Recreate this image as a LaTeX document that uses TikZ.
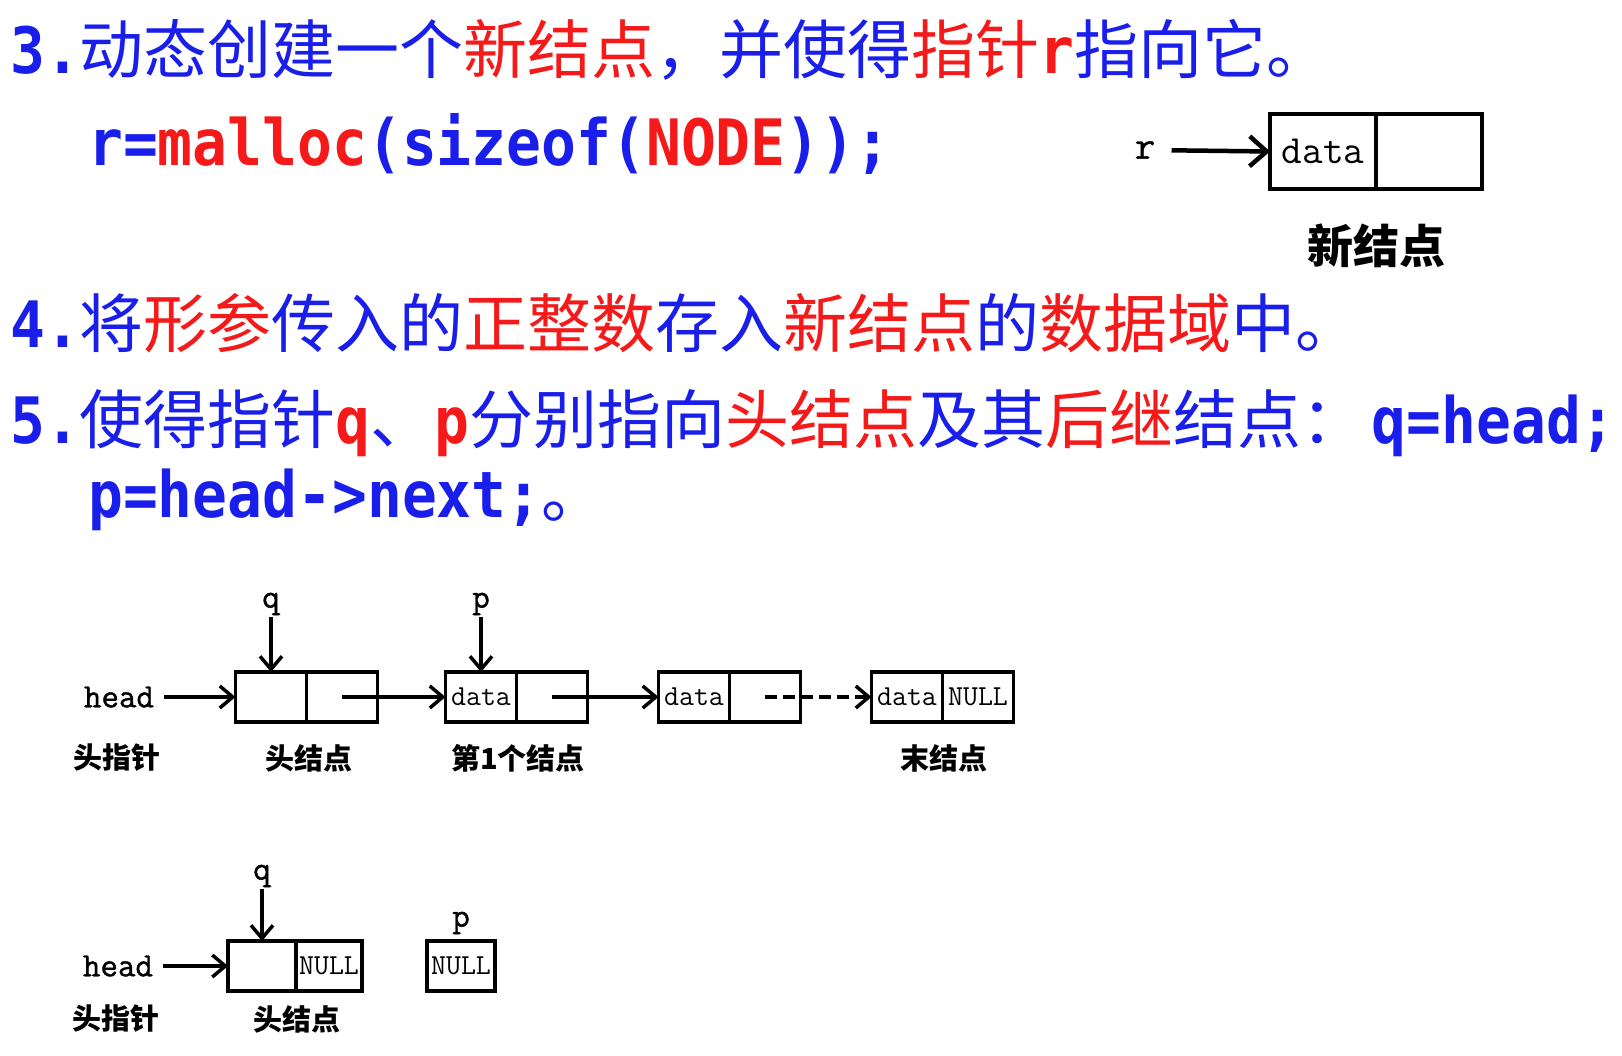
\documentclass[tikz,border=0pt]{standalone}
\usepackage{fontspec}
\usetikzlibrary{arrows.meta,positioning}
\newfontfamily\cjk{Noto Sans CJK SC}
\newfontfamily\codefont[FakeStretch=0.905]{DejaVu Sans Mono}
\newfontfamily\varfont[FakeBold=1.2]{Latin Modern Mono}
\definecolor{txtblue}{RGB}{25,30,235}
\definecolor{txtred}{RGB}{245,25,25}
\newcommand\redtxt[1]{{\color{txtred}#1}}
\newcommand\cd[1]{{\codefont\bfseries #1}}

\begin{document}
\begin{tikzpicture}[
  x=1pt, y=-1pt, >={Straight Barb[length=13pt,width=22pt]},
  line/.style={font=\cjk\fontsize{64}{64}\selectfont, text=txtblue,
               anchor=base west, inner sep=0pt},
  cell/.style={draw, line width=3.5pt, minimum width=71pt, minimum height=50pt,
               inner sep=0pt, outer sep=0pt,
               font=\ttfamily\fontsize{29}{29}\selectfont},
  bigcell/.style={cell, line width=4.5pt, minimum width=106pt,
                  minimum height=75pt, font=\ttfamily\fontsize{40}{40}\selectfont},
  var/.style={font=\varfont\fontsize{34}{34}\selectfont, inner sep=2pt},
  lbl/.style={font=\cjk\bfseries\fontsize{29}{29}\selectfont, inner sep=0pt},
  ptr/.style={->, line width=3.5pt}
]
\fill[white] (0,0) rectangle (1622,1056);

% ---- text lines
\node[line] (l3) at (10,74)
  {\cd{3.}动态创建一个\redtxt{新结点}，并使得\redtxt{指针\cd{r}}指向它。};
\node[line] (c3) at (88,166)
  {\cd{r=\redtxt{malloc}(sizeof(\redtxt{NODE}));}};
\node[line] (l4) at (10,348)
  {\cd{4.}将\redtxt{形参}传入的\redtxt{正整数}存入\redtxt{新结点}的\redtxt{数据域}中。};
\node[line] (l5) at (10,443)
  {\cd{5.}使得指针\redtxt{\cd{q}}、\redtxt{\cd{p}}分别指向\redtxt{头结点}及其\redtxt{后继}结点：\hspace{6pt}\cd{q=head;}};
\node[line] (l6) at (88,517) {\cd{p=head->next;}。};

% ---- new node r
\node[var, font=\varfont\fontsize{40}{40}\selectfont] (r) at (1145,150) {r};
\node[bigcell] (nd) at (1323,151.5) {data};
\node[bigcell, right=0pt of nd] (nn) {};
\node[lbl, font=\cjk\bfseries\fontsize{46}{46}\selectfont] (ndlbl) at (1376,246) {新结点};
\draw[->, line width=4.5pt, >={Straight Barb[length=17pt,width=30pt]},
      shorten <=14pt] (r) -- (nd.west);

% ---- list with head node
\node[var] (hp1) at (119,697) {head};
\node[cell] (h0d) at (271,697) {};
\node[cell, right=0pt of h0d] (h0n) {};
\node[cell] (n1d) at (481,697) {data};
\node[cell, right=0pt of n1d] (n1n) {};
\node[cell] (n2d) at (694,697) {data};
\node[cell, right=0pt of n2d] (n2n) {};
\node[cell] (n3d) at (907,697) {data};
\node[cell, right=0pt of n3d] (n3n) {NULL};
\node[var] (q1) at (271,604) {q};
\node[var] (p1) at (481,604) {p};

\node[lbl] at (117,758) {头指针};
\node[lbl] at (309,758) {头结点};
\node[lbl] at (518,758) {第1个结点};
\node[lbl] at (944,758) {末结点};

\draw[ptr, shorten <=8pt] (hp1) -- (h0d.west);
\draw[ptr] (q1) -- (h0d.north);
\draw[ptr] (p1) -- (n1d.north);
\draw[ptr] (h0n.center) -- (n1d.west);
\draw[ptr] (n1n.center) -- (n2d.west);
\draw[ptr, dash pattern=on 12pt off 6pt] (n2n.center) -- (n3d.west);

% ---- empty list
\node[var] (hp2) at (118,966) {head};
\node[cell, minimum width=68pt] (b0d) at (262,966) {};
\node[cell, minimum width=66pt, right=0pt of b0d] (b0n) {NULL};
\node[cell, minimum width=68pt] (pb) at (461,966) {NULL};
\node[var] (q2) at (262,876) {q};
\node[var] (p2) at (461,923) {p};

\node[lbl] at (116,1019) {头指针};
\node[lbl] at (297,1019) {头结点};

\draw[ptr, shorten <=8pt] (hp2) -- (b0d.west);
\draw[ptr] (q2) -- (b0d.north);
\end{tikzpicture}
\end{document}
